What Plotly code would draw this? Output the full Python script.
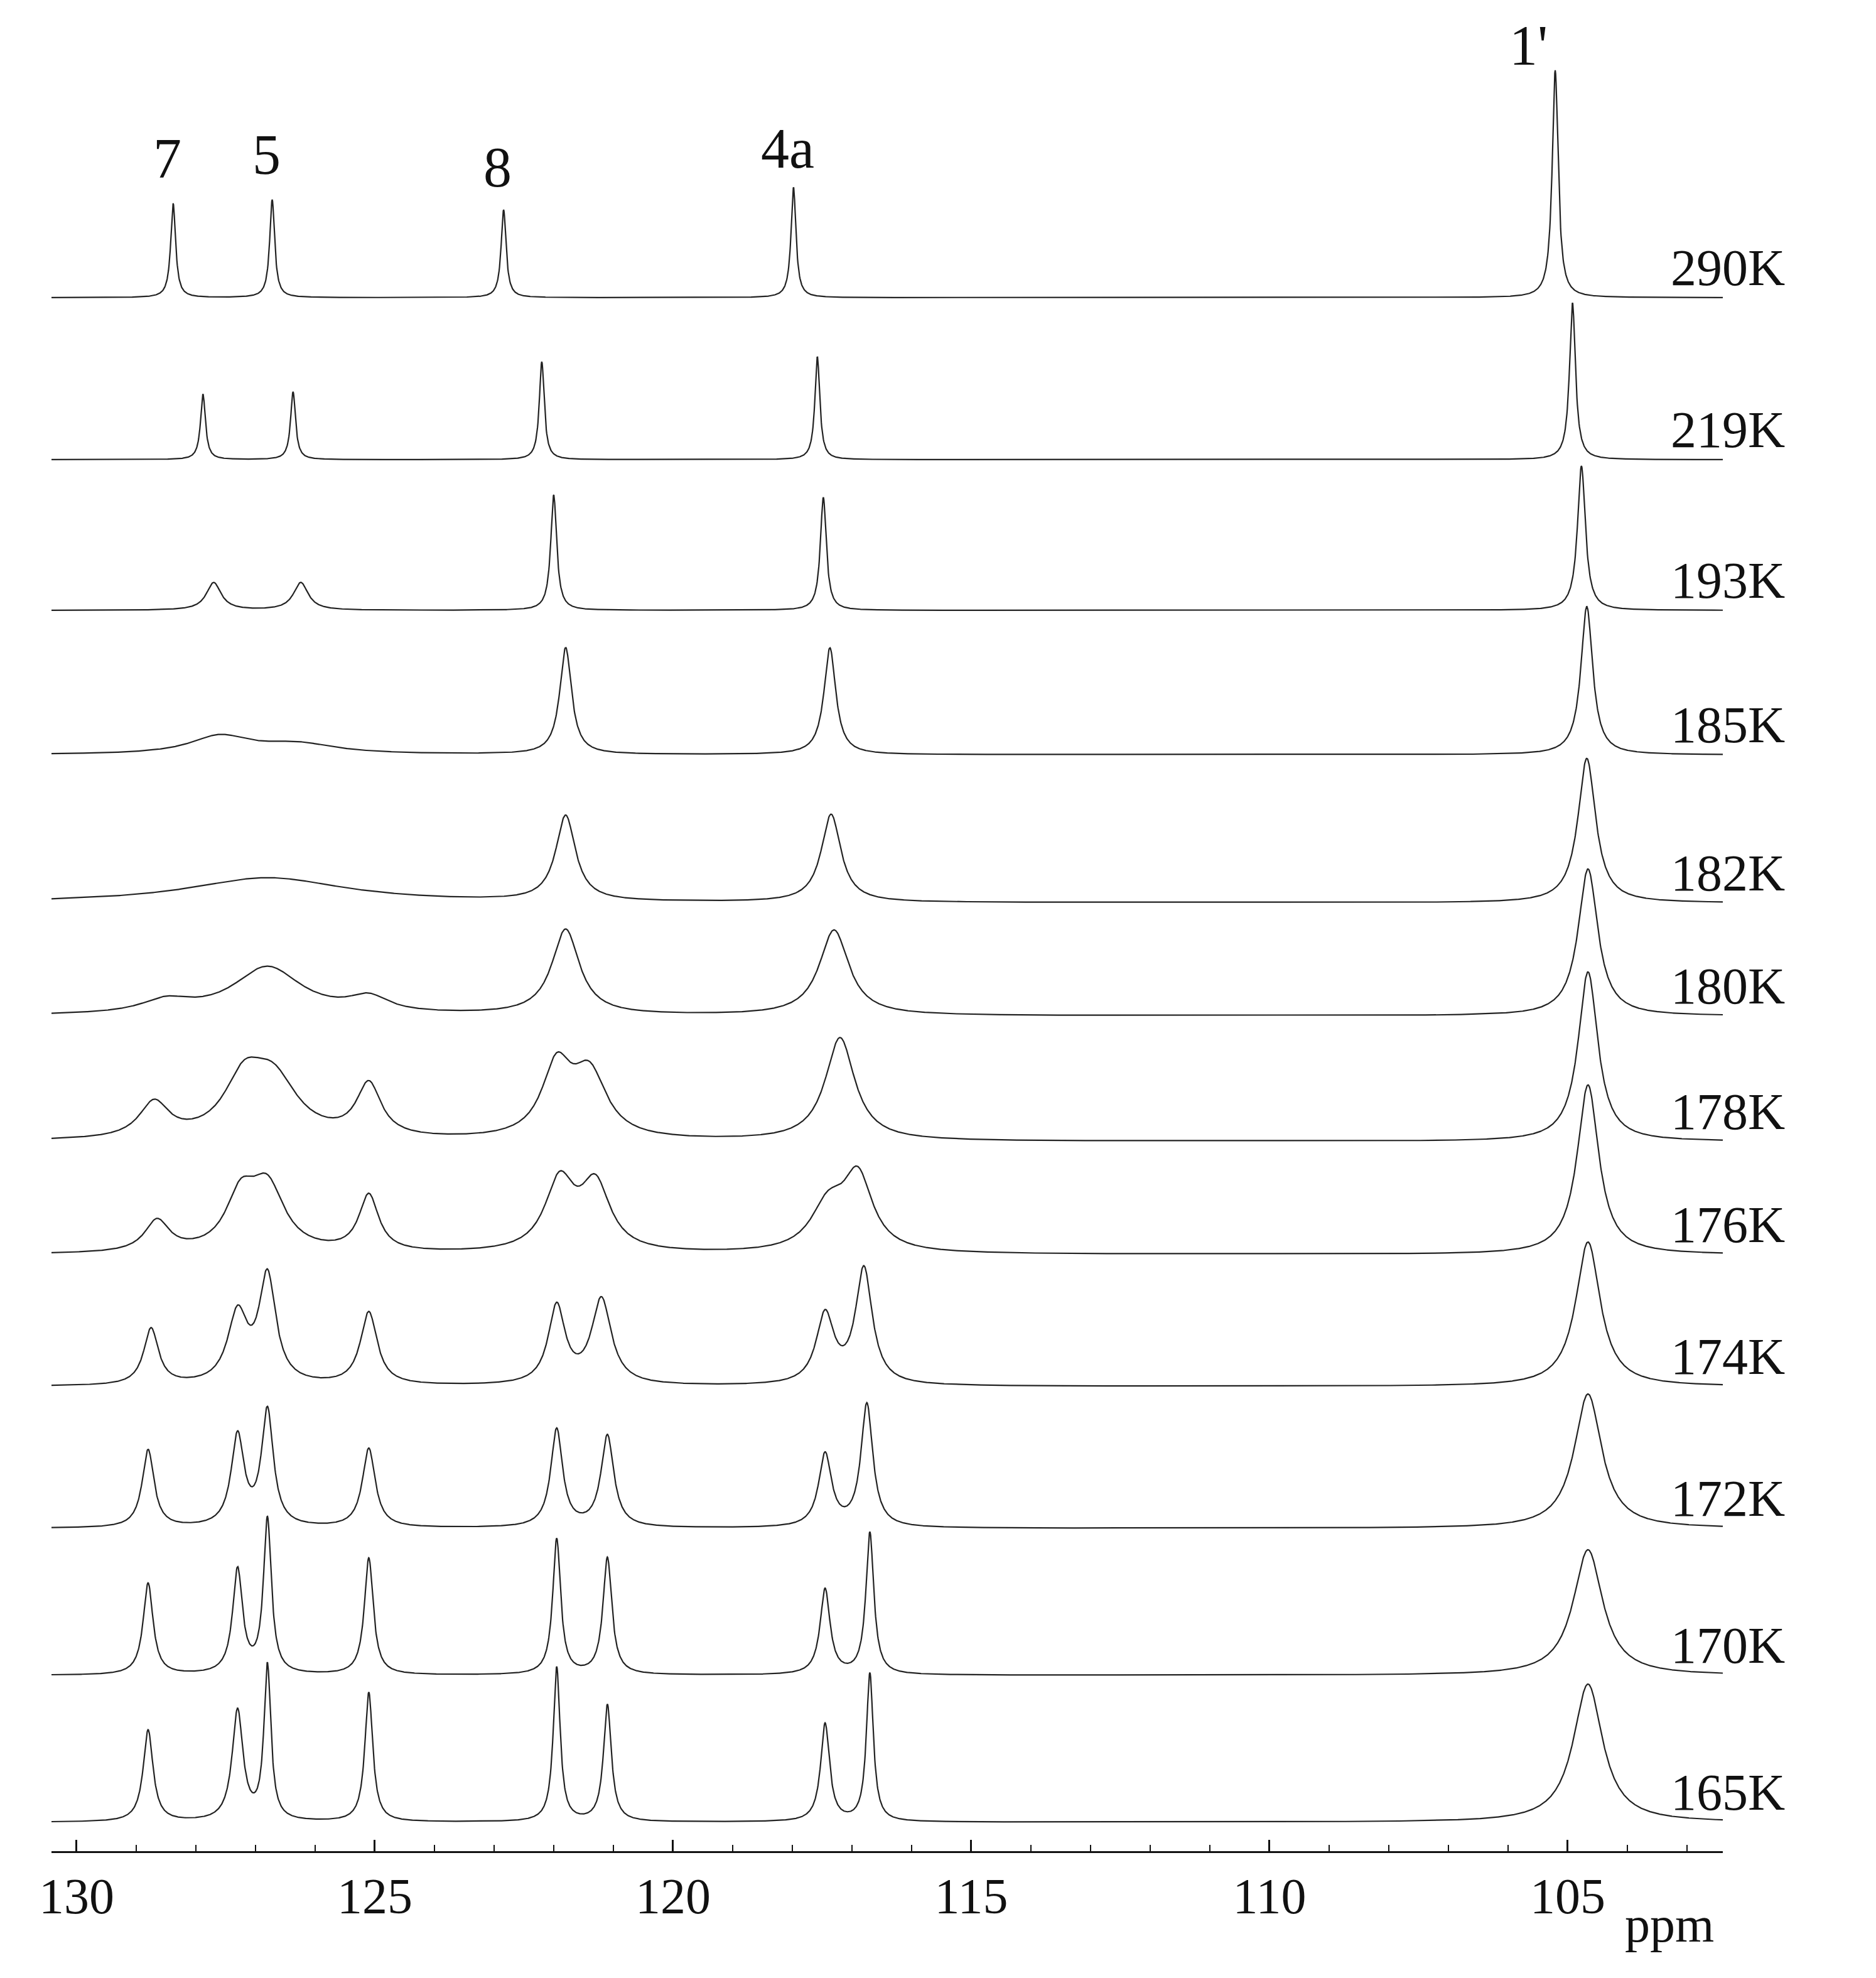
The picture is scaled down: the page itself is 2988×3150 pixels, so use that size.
import numpy as np
import plotly.graph_objects as go

temps = ["290K","219K","193K","185K","182K","180K","178K","176K","174K","172K","170K","165K"]
baselines = [233,362,482,597,715,805,905,995,1100,1213,1330,1447]
# per spectrum: list of (ppm, height, halfwidth)
peaks = [
 [(128.38,75,0.05),(126.72,78,0.05),(122.84,70,0.05),(117.98,88,0.05),(105.21,181,0.06)],
 [(127.88,52,0.05),(126.37,54,0.05),(122.20,78,0.05),(117.58,82,0.05),(104.92,125,0.06)],
 [(127.70,22,0.15),(126.24,22,0.15),(122.00,92,0.06),(117.48,90,0.06),(104.77,115,0.08)],
 [(127.60,14,0.6),(126.30,8,0.8),(121.80,85,0.12),(117.37,85,0.12),(104.68,118,0.12)],
 [(126.80,20,1.6),(121.80,68,0.2),(117.35,70,0.2),(104.68,115,0.18)],
 [(128.50,10,0.5),(126.80,38,0.7),(125.10,12,0.4),(121.80,68,0.28),(117.30,68,0.3),(104.66,117,0.2)],
 [(128.70,28,0.3),(127.20,40,0.4),(126.70,45,0.5),(125.10,42,0.25),(121.95,55,0.3),(121.40,50,0.35),(117.20,82,0.3),(104.66,135,0.2)],
 [(128.65,25,0.25),(127.25,40,0.3),(126.80,50,0.35),(125.10,45,0.2),(121.90,55,0.3),(121.30,52,0.3),(117.40,35,0.35),(116.90,58,0.3),(104.66,135,0.22)],
 [(128.75,45,0.15),(127.30,55,0.2),(126.80,85,0.17),(125.10,58,0.17),(121.95,62,0.17),(121.20,68,0.2),(117.45,55,0.18),(116.80,92,0.17),(104.66,115,0.25)],
 [(128.80,62,0.12),(127.30,72,0.13),(126.80,92,0.12),(125.10,63,0.13),(121.95,78,0.12),(121.10,73,0.13),(117.45,58,0.13),(116.75,98,0.12),(104.66,107,0.28)],
 [(128.80,73,0.1),(127.30,83,0.1),(126.80,123,0.08),(125.10,93,0.09),(121.95,108,0.08),(121.10,93,0.09),(117.45,68,0.1),(116.70,113,0.08),(104.66,100,0.3)],
 [(128.80,73,0.1),(127.30,88,0.11),(126.80,123,0.07),(125.10,103,0.08),(121.95,123,0.07),(121.10,93,0.08),(117.45,78,0.09),(116.70,118,0.07),(104.66,110,0.3)],
]
peak_labels = ["7","5","8","4a","1'"]
label_dx = [0.1, 0.1, 0.1, 0.1, 0.45]
label_y = [148, 145, 155, 140, 58]
tick_vals = [130,125,120,115,110,105]

x = np.linspace(130.42, 102.4, 4000)
fig = go.Figure()
for t, b, pk in zip(temps, baselines, peaks):
    s = np.zeros_like(x)
    for c, h, w in pk:
        s += h * w**2 / ((x - c)**2 + w**2)
    fig.add_trace(go.Scatter(x=x, y=b - s, mode="lines", line=dict(color="#222", width=2.2),
                             showlegend=False, hoverinfo="skip"))
    fig.add_annotation(x=0.968, xref="paper", y=b - 24, yref="y", text=t, showarrow=False,
                       xanchor="left", font=dict(family="Liberation Serif", size=82, color="#111"))
for (c, h, w), lab, dx, ly in zip(peaks[0], peak_labels, label_dx, label_y):
    fig.add_annotation(x=c + dx, y=ly, text=lab, showarrow=False, yanchor="bottom",
                       font=dict(family="Liberation Serif", size=90, color="#111"))
fig.add_annotation(x=0.968, xref="paper", y=-0.024, yref="paper", text="ppm", showarrow=False,
                   xanchor="center", yanchor="top", font=dict(family="Liberation Serif", size=80, color="#111"))

fig.update_layout(width=2988, height=3150, plot_bgcolor="white", paper_bgcolor="white",
                  margin=dict(l=74, r=252, t=0, b=210))
fig.update_xaxes(range=[130.42, 102.4], showgrid=False, zeroline=False, showline=True,
                 linecolor="#111", linewidth=3, tickvals=tick_vals, ticks="inside", ticklen=18,
                 tickwidth=3, tickcolor="#111",
                 minor=dict(dtick=1, ticks="inside", ticklen=10, tickcolor="#111", tickwidth=2),
                 tickfont=dict(family="Liberation Serif", size=80, color="#111"))
fig.update_yaxes(range=[1470, 0], visible=False)
fig.write_html("out.html")
